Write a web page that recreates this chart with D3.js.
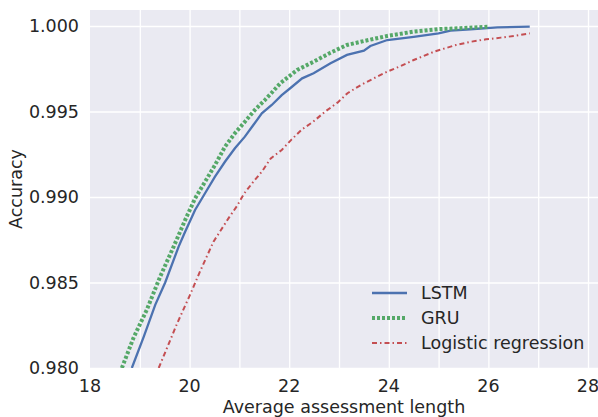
<!DOCTYPE html>
<html>
<head>
<meta charset="utf-8">
<script src="https://cdn.jsdelivr.net/npm/d3@7"></script>
<style>
  body { margin: 0; background: #fff; }
  svg { display: block; font-family: "DejaVu Sans", sans-serif; }
</style>
</head>
<body>
<svg></svg>
<script>
// values
let lstmX = [18.84, 19.08, 19.31, 19.51, 19.78, 19.91, 20.11, 20.31, 20.51, 20.71, 20.91, 21.11, 21.28, 21.45, 21.65, 21.85, 22.02, 22.26, 22.49, 22.83, 23.16, 23.50, 23.63, 23.97, 24.50, 25.00, 25.24, 25.64, 26.18, 26.83]
let lstmY = [0.9800, 0.98183, 0.98369, 0.98500, 0.98710, 0.98797, 0.98924, 0.99022, 0.99119, 0.99206, 0.99285, 0.99353, 0.99421, 0.99489, 0.99538, 0.99596, 0.99636, 0.99694, 0.99724, 0.99782, 0.99831, 0.99856, 0.99883, 0.99918, 0.99937, 0.99957, 0.99973, 0.99981, 0.99992, 0.99996]

let gruX = [18.64, 18.87, 19.14, 19.41, 19.68, 19.91, 20.11, 20.31, 20.51, 20.71, 20.91, 21.11, 21.31, 21.51, 21.65, 21.82, 22.16, 22.49, 22.83, 23.16, 23.50, 23.97, 24.50, 25.00, 25.44, 25.99]
let gruY = [0.9800, 0.98174, 0.98340, 0.98535, 0.98710, 0.98865, 0.98992, 0.99089, 0.99187, 0.99294, 0.99373, 0.99440, 0.99509, 0.99567, 0.99610, 0.99665, 0.99743, 0.99791, 0.99844, 0.99889, 0.99912, 0.99942, 0.99967, 0.99982, 0.99987, 0.99996]

let logX = [19.38, 19.75, 20.00, 20.21, 20.48, 20.63, 20.78, 20.95, 21.10, 21.28, 21.46, 21.63, 21.85, 22.05, 22.26, 22.48, 22.72, 22.97, 23.17, 23.44, 23.70, 23.97, 24.24, 24.50, 24.91, 25.35, 25.65, 25.95, 26.25, 26.55, 26.83]
let logY = [0.9800, 0.98261, 0.98422, 0.98565, 0.98739, 0.98807, 0.98875, 0.98947, 0.99022, 0.99089, 0.99152, 0.99226, 0.99275, 0.99337, 0.99396, 0.99440, 0.99499, 0.99552, 0.99607, 0.99655, 0.99694, 0.99733, 0.99766, 0.99801, 0.99850, 0.99889, 0.99908, 0.99922, 0.99932, 0.99943, 0.99957]

let xTicks = [18, 20, 22, 24, 26, 28]
let xGrid = [19, 20, 21, 22, 23, 24, 25, 26, 27, 28]
let yTicks = [0.980, 0.985, 0.990, 0.995, 1.000]
let seriesNames = ["LSTM", "GRU", "Logistic regression"]

let width = 598
let height = 417
let padLeft = 90
let padRight = 598
let padTop = 10
let padBottom = 368
let fontSize = "17.5px"

let svg = d3.select("svg")
  .attr("width", width)
  .attr("height", height)

let xScale = d3.scaleLinear()
  .domain([18, 28])
  .range([padLeft, 588])

let yScale = d3.scaleLinear()
  .domain([0.980, 1.000])
  .range([padBottom, 26])

// axes background
svg.append("rect")
   .attr("x", padLeft)
   .attr("y", padTop)
   .attr("width", padRight - padLeft)
   .attr("height", padBottom - padTop)
   .attr("fill", "#eaeaf2")

svg.append("clipPath")
   .attr("id", "plot")
   .append("rect")
   .attr("x", padLeft)
   .attr("y", padTop)
   .attr("width", padRight - padLeft)
   .attr("height", padBottom - padTop)

// grid
let xAxis = d3.axisBottom(xScale)
  .tickValues(xGrid)
  .tickSize(-(padBottom - padTop))
  .tickFormat("")
let yAxis = d3.axisLeft(yScale)
  .tickValues(yTicks)
  .tickSize(-(padRight - padLeft))
  .tickFormat("")

svg.append("g")
   .attr("transform", "translate(0," + padBottom + ")")
   .call(xAxis)
svg.append("g")
   .attr("transform", "translate(" + padLeft + ",0)")
   .call(yAxis)

svg.selectAll(".domain").remove()
svg.selectAll(".tick line")
   .attr("stroke", "#fff")
   .attr("stroke-width", 1.3)

// tick labels
svg.selectAll(".xlab")
   .data(xTicks)
   .enter()
   .append("text")
   .attr("class", "xlab")
   .attr("x", d => xScale(d))
   .attr("y", 392)
   .attr("text-anchor", "middle")
   .attr("font-size", fontSize)
   .attr("fill", "#262626")
   .text(d => d)

svg.selectAll(".ylab")
   .data(yTicks)
   .enter()
   .append("text")
   .attr("class", "ylab")
   .attr("x", 79)
   .attr("y", d => yScale(d))
   .attr("dy", "0.36em")
   .attr("text-anchor", "end")
   .attr("font-size", fontSize)
   .attr("fill", "#262626")
   .text(d => d3.format(".3f")(d))

svg.append("text")
   .attr("x", (padLeft + padRight) / 2)
   .attr("y", 413)
   .attr("text-anchor", "middle")
   .attr("font-size", fontSize)
   .attr("fill", "#262626")
   .text("Average assessment length")

svg.append("text")
   .attr("transform", "translate(22," + ((padTop + padBottom) / 2) + ") rotate(-90)")
   .attr("text-anchor", "middle")
   .attr("font-size", fontSize)
   .attr("fill", "#262626")
   .text("Accuracy")

// lines
let styles = [
  {color: "#4c72b0", w: 2.3, dash: null},
  {color: "#55a868", w: 4, dash: "3,2"},
  {color: "#c44e52", w: 2, dash: "5,3,1.5,3"}
]
let series = [
  d3.zip(lstmX, lstmY),
  d3.zip(gruX, gruY),
  d3.zip(logX, logY)
]

let line = d3.line()
  .x(d => xScale(d[0]))
  .y(d => yScale(d[1]))

let plot = svg.append("g").attr("clip-path", "url(#plot)")

series.forEach((s, i) => {
  plot.append("path")
      .datum(s)
      .attr("d", line)
      .attr("fill", "none")
      .attr("stroke", styles[i].color)
      .attr("stroke-width", styles[i].w)
      .attr("stroke-dasharray", styles[i].dash)
})

// legend
let legend = svg.append("g")
seriesNames.forEach((name, i) => {
  let y = 293 + i * 25
  legend.append("line")
        .attr("x1", 372)
        .attr("x2", 407)
        .attr("y1", y)
        .attr("y2", y)
        .attr("stroke", styles[i].color)
        .attr("stroke-width", styles[i].w)
        .attr("stroke-dasharray", styles[i].dash)
  legend.append("text")
        .attr("x", 421)
        .attr("y", y)
        .attr("dy", "0.36em")
        .attr("font-size", fontSize)
        .attr("fill", "#262626")
        .text(name)
})
</script>
</body>
</html>
